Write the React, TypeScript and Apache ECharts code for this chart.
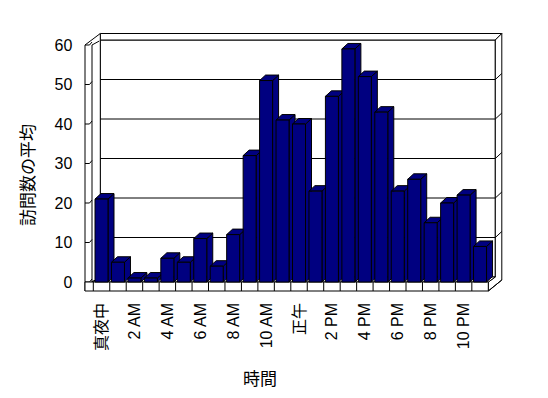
import React, { useEffect, useRef } from "react";
import * as echarts from "echarts";

const hourLabels = [
  "真夜中", "1 AM", "2 AM", "3 AM", "4 AM", "5 AM", "6 AM", "7 AM", "8 AM", "9 AM", "10 AM", "11 AM",
  "正午", "1 PM", "2 PM", "3 PM", "4 PM", "5 PM", "6 PM", "7 PM", "8 PM", "9 PM", "10 PM", "11 PM",
];
const avgVisits = [21, 5, 1, 1, 6, 5, 11, 4, 12, 32, 51, 41, 40, 23, 47, 59, 52, 43, 23, 26, 15, 20, 22, 9];
const yTicks = [0, 10, 20, 30, 40, 50, 60];

const FONT = '"Liberation Sans", "Noto Sans CJK JP", sans-serif';
const CJK = '"Noto Sans CJK JP", sans-serif';
const NAVY = "#000080";

export default function App() {
  const ref = useRef<HTMLDivElement>(null);
  useEffect(() => {
    if (!ref.current) return;
    const chart = echarts.init(ref.current, null, { renderer: "svg" });
    const n = hourLabels.length;
    const line = (x1: number, y1: number, x2: number, y2: number) => ({
      type: "line",
      shape: { x1, y1, x2, y2 },
      style: { stroke: "#000", lineWidth: 1, fill: "none" },
    });
    const poly = (points: number[][], fill = "#fff") => ({
      type: "polygon",
      shape: { points },
      style: { fill, stroke: "#000", lineWidth: 1 },
    });

    const frameRender = (params: any, api: any) => {
      const bw = api.size([1, 0])[0];
      const xL = api.coord([0, 0])[0] - bw / 2;
      const xR = api.coord([n - 1, 0])[0] + bw / 2;
      const y0 = api.coord([0, 0])[1];
      const yTop = api.coord([0, yTicks[yTicks.length - 1]])[1];
      const dx = 7, dy = -5;
      const wl = xL - 8.3;
      const wi = xL - 1.3;
      const bx0 = xL + dx;
      const bx1 = xR + dx;
      const rx = bx1 + 6.5;
      const children: any[] = [];
      children.push({
        type: "rect",
        shape: { x: bx0, y: yTop + dy, width: bx1 - bx0, height: y0 - yTop },
        style: { fill: "#fff", stroke: "#000", lineWidth: 1 },
      });
      children.push(poly([[bx0, yTop + dy], [bx0, yTop + dy - 6.5], [rx, yTop + dy - 6.5], [bx1, yTop + dy]]));
      children.push(poly([[bx1, yTop + dy], [rx, yTop + dy - 6.5], [rx, y0 + dy + 3], [xR, y0 + 9], [xR, y0], [bx1, y0 + dy]]));
      children.push(poly([[wl, yTop], [bx0, yTop + dy - 6.5], [bx0, y0 + dy], [wi, y0], [wl, y0 + 9]]));
      children.push(line(wi, yTop, wi, y0));
      children.push(line(wi, yTop, bx0 - 1, yTop + dy + 1));
      yTicks.forEach((v) => {
        const y = api.coord([0, v])[1];
        if (v > 0 && v < yTicks[yTicks.length - 1]) {
          children.push(line(bx0, y + dy, bx1, y + dy));
          children.push(line(bx1, y + dy, rx, y + dy - 6));
        }
        children.push({
          type: "polyline",
          shape: { points: [[wl, y], [wl + 4.5, y], [wi, y - 3]] },
          style: { stroke: "#000", lineWidth: 1, fill: "none" },
        });
      });
      children.push(poly([[wi, y0], [xR, y0], [bx1, y0 + dy], [bx0, y0 + dy]]));
      children.push({
        type: "rect",
        shape: { x: wl, y: y0, width: xR - wl, height: 9 },
        style: { fill: "#fff", stroke: "#000", lineWidth: 1 },
      });
      for (let i = 0; i < n; i++) {
        const x = api.coord([i, 0])[0] - bw / 2;
        children.push(line(x, y0, x, y0 + 9));
      }
      children.push(line(xR, y0 + 9, rx, y0 + dy + 3));
      return { type: "group", children };
    };

    const barRender = (params: any, api: any) => {
      const idx = api.value(0);
      const val = api.value(1);
      const bw = api.size([1, 0])[0];
      const top = api.coord([idx, val]);
      const base = api.coord([idx, 0]);
      const x0 = top[0] - bw / 2 + 1.7;
      const w = bw * 0.79;
      const x1 = x0 + w;
      const ddx = 6, ddy = -5.5;
      const yt = top[1];
      const yb = base[1];
      return {
        type: "group",
        children: [
          poly([[x1, yt], [x1 + ddx, yt + ddy], [x1 + ddx, yb + ddy], [x1, yb]], NAVY),
          poly([[x0, yt], [x0 + ddx, yt + ddy], [x1 + ddx, yt + ddy], [x1, yt]], NAVY),
          {
            type: "rect",
            shape: { x: x0, y: yt, width: w, height: yb - yt },
            style: { fill: NAVY, stroke: "#000", lineWidth: 1 },
          },
        ],
      };
    };

    chart.setOption({
      animation: false,
      backgroundColor: "#fff",
      grid: { left: 93.3, right: 59.7, top: 45, bottom: 116 },
      xAxis: {
        type: "category",
        data: hourLabels,
        axisLine: { show: false },
        axisTick: { show: false },
        axisLabel: {
          interval: 1,
          rotate: 90,
          margin: 21,
          fontSize: 16,
          color: "#000",
          fontFamily: FONT,
        },
      },
      yAxis: {
        type: "value",
        min: 0,
        max: 60,
        interval: 10,
        axisLine: { show: false },
        axisTick: { show: false },
        splitLine: { show: false },
        axisLabel: { margin: 21, fontSize: 16, color: "#000", fontFamily: FONT },
      },
      graphic: [
        {
          type: "text",
          x: 26,
          y: 175,
          rotation: Math.PI / 2,
          style: {
            text: "訪問数の平均",
            fontSize: 17,
            fontFamily: CJK,
            fill: "#000",
            align: "center",
            verticalAlign: "middle",
          },
        },
        {
          type: "text",
          x: 260,
          y: 377,
          style: {
            text: "時間",
            fontSize: 17,
            fontFamily: CJK,
            fill: "#000",
            align: "center",
            verticalAlign: "middle",
          },
        },
      ],
      series: [
        {
          type: "custom",
          z: 1,
          clip: false,
          silent: true,
          renderItem: frameRender,
          data: [[0, 0]],
        },
        {
          type: "custom",
          z: 2,
          clip: false,
          renderItem: barRender,
          encode: { x: 0, y: 1 },
          data: avgVisits.map((v, i) => [i, v]),
        },
      ],
    });
    return () => chart.dispose();
  }, []);
  return (
    <div
      ref={ref}
      style={{ position: "fixed", left: 0, top: 0, width: 548, height: 398, background: "#fff" }}
    />
  );
}
